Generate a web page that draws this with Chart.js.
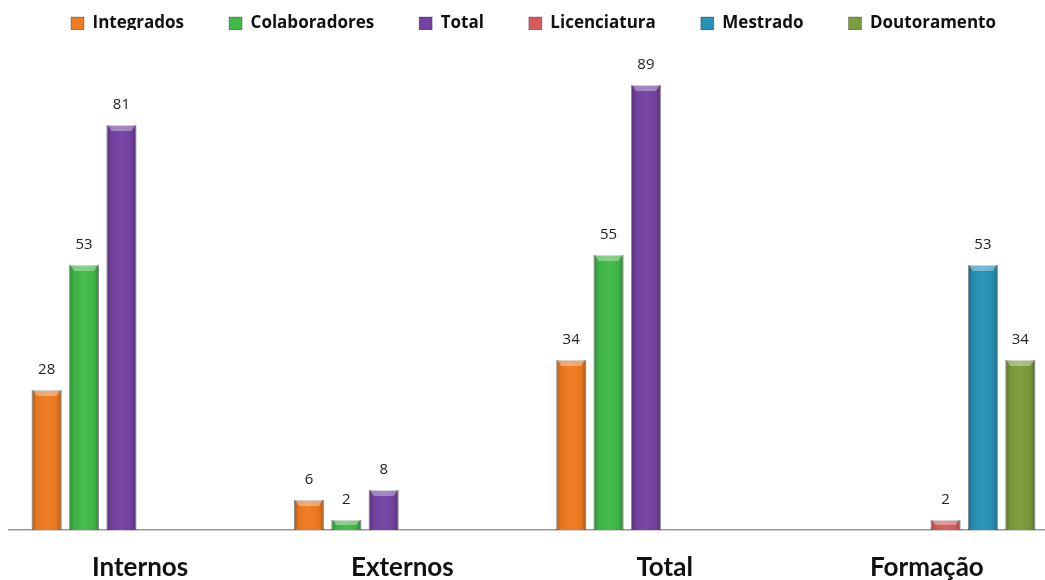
<!DOCTYPE html>
<html>
<head>
<meta charset="utf-8">
<script src="https://cdn.jsdelivr.net/npm/chart.js@4.4.1/dist/chart.umd.min.js"></script>
<style>
  html, body { margin: 0; padding: 0; background: #fff; overflow: hidden; }
  .chart-container { width: 1058px; height: 580px; }
</style>
</head>
<body>
<div class="chart-container"><canvas id="myChart"></canvas></div>
<script>
const categories = ["Internos", "Externos", "Total", "Formação"];
const integrados = [28, 6, 34, null];
const colaboradores = [53, 2, 55, null];
const total = [81, 8, 89, null];
const licenciatura = [null, null, null, 2];
const mestrado = [null, null, null, 53];
const doutoramento = [null, null, null, 34];

const colors = {
  integrados: "#F07A1E",
  colaboradores: "#3FBA47",
  total: "#7442A2",
  licenciatura: "#D65A5E",
  mestrado: "#2592B6",
  doutoramento: "#7B9C3A",
};

// bevel / shading on top of each bar, like the old office 3D bars
const bevelPlugin = {
  id: "bevel",
  afterDatasetsDraw(chart) {
    const ctx = chart.ctx;
    chart.data.datasets.forEach((ds, i) => {
      const meta = chart.getDatasetMeta(i);
      meta.data.forEach((el, j) => {
        if (ds.data[j] == null) return;
        const { x, y, width, base } = el.getProps(["x", "y", "width", "base"], true);
        const left = x - width / 2;
        const right = x + width / 2;
        ctx.save();
        const g = ctx.createLinearGradient(left, 0, right, 0);
        g.addColorStop(0, "rgba(0,0,0,0.28)");
        g.addColorStop(0.15, "rgba(0,0,0,0.05)");
        g.addColorStop(0.5, "rgba(255,255,255,0.04)");
        g.addColorStop(0.85, "rgba(0,0,0,0.05)");
        g.addColorStop(1, "rgba(0,0,0,0.3)");
        ctx.fillStyle = g;
        ctx.fillRect(left, y, width, base - y);
        const bh = Math.min(6, (base - y) / 2);
        ctx.beginPath();
        ctx.moveTo(left + 1, y);
        ctx.lineTo(right - 1, y);
        ctx.lineTo(right - 5, y + bh);
        ctx.lineTo(left + 5, y + bh);
        ctx.closePath();
        ctx.fillStyle = "rgba(255,255,255,0.35)";
        ctx.fill();
        ctx.restore();
      });
    });
  },
};

const valueLabels = {
  id: "valueLabels",
  afterDatasetsDraw(chart) {
    const ctx = chart.ctx;
    ctx.save();
    ctx.font = "15px 'Open Sans'";
    ctx.fillStyle = "#222";
    ctx.textAlign = "center";
    ctx.textBaseline = "middle";
    chart.data.datasets.forEach((ds, i) => {
      chart.getDatasetMeta(i).data.forEach((el, j) => {
        const v = ds.data[j];
        if (v == null) return;
        ctx.fillText(String(v), el.x, el.y - 20);
      });
    });
    ctx.restore();
  },
};

const makeDataset = (label, data, color) => ({
  label,
  data,
  backgroundColor: color,
  borderColor: "rgba(0,0,0,0.25)",
  borderWidth: 1,
  categoryPercentage: 0.855,
  barPercentage: 0.8,
  skipNull: false,
});

const ctx = document.getElementById("myChart").getContext("2d");
const chart = new Chart(ctx, {
  type: "bar",
  data: {
    labels: categories,
    datasets: [
      makeDataset("Integrados", integrados, colors.integrados),
      makeDataset("Colaboradores", colaboradores, colors.colaboradores),
      makeDataset("Total", total, colors.total),
      makeDataset("Licenciatura", licenciatura, colors.licenciatura),
      makeDataset("Mestrado", mestrado, colors.mestrado),
      makeDataset("Doutoramento", doutoramento, colors.doutoramento),
    ],
  },
  options: {
    responsive: true,
    maintainAspectRatio: false,
    animation: false,
    layout: {
      padding: { left: 9, right: 0, top: -30, bottom: 0 },
    },
    plugins: {
      legend: {
        position: "top",
        maxHeight: 60,
        labels: {
          boxWidth: 13,
          boxHeight: 13,
          padding: 45,
          color: "#111",
          font: { family: "Open Sans", size: 17, weight: "bold" },
        },
      },
      tooltip: { enabled: false },
    },
    scales: {
      x: {
        grid: { display: false },
        border: { display: true, color: "#999", width: 1.5 },
        afterFit(scale) {
          scale.height = 50;
        },
        ticks: {
          padding: 14,
          color: "#111",
          font: { family: "Lato", size: 26, weight: "bold" },
        },
      },
      y: {
        display: false,
        min: 0,
        max: 100,
      },
    },
  },
  plugins: [bevelPlugin, valueLabels],
});
</script>
</body>
</html>
